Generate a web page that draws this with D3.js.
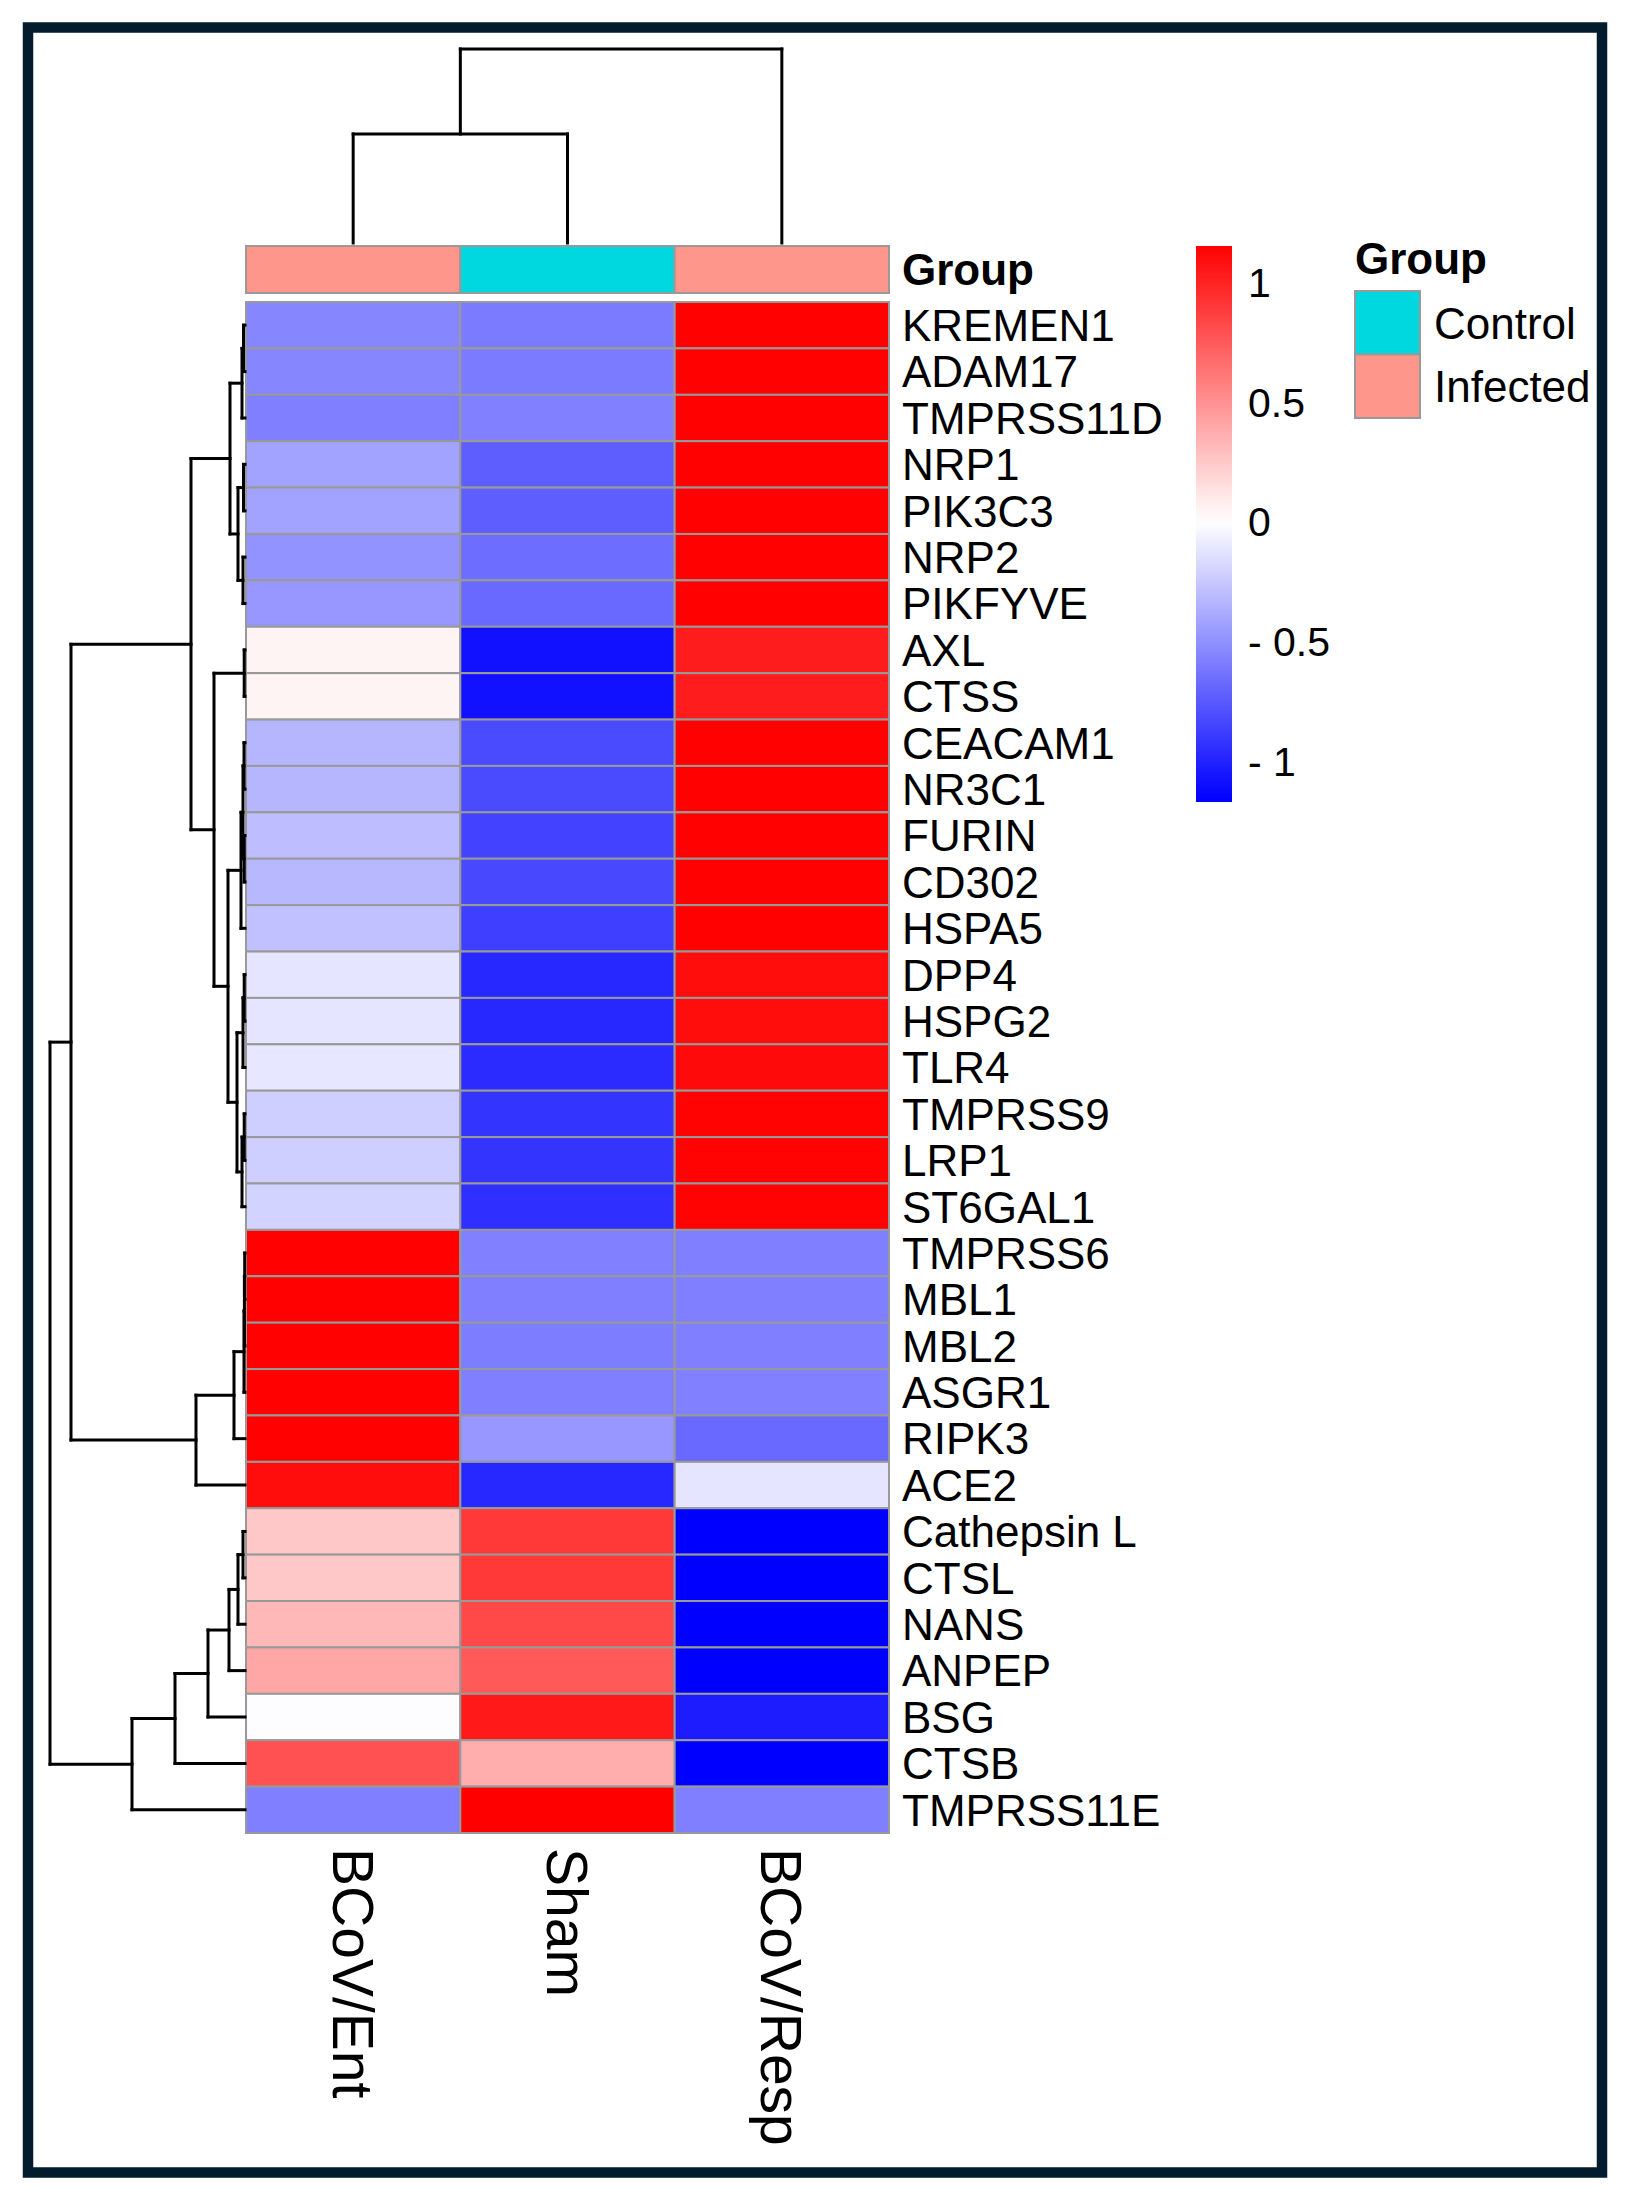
<!DOCTYPE html>
<html>
<head>
<meta charset="utf-8">
<title>Heatmap</title>
<style>
  body { margin: 0; background: #fff; }
  text { font-family: "Liberation Sans", Arial, sans-serif; fill: #000; }
</style>
</head>
<body>
<script src="https://d3js.org/d3.v7.min.js"></script>
<script>

// ---- data (row z-scores) ----
var genes = ["KREMEN1", "ADAM17", "TMPRSS11D", "NRP1", "PIK3C3", "NRP2", "PIKFYVE",
  "AXL", "CTSS", "CEACAM1", "NR3C1", "FURIN", "CD302", "HSPA5", "DPP4", "HSPG2",
  "TLR4", "TMPRSS9", "LRP1", "ST6GAL1", "TMPRSS6", "MBL1", "MBL2", "ASGR1", "RIPK3",
  "ACE2", "Cathepsin L", "CTSL", "NANS", "ANPEP", "BSG", "CTSB", "TMPRSS11E"];

var samples = ["BCoV/Ent", "Sham", "BCoV/Resp"];
var sampleGroup = ["Infected", "Control", "Infected"];
var groupLevels = ["Control", "Infected"];

var entValues = [-0.55, -0.55, -0.58, -0.42, -0.42, -0.49, -0.47, 0.05, 0.05, -0.33, -0.33,
  -0.30, -0.32, -0.28, -0.12, -0.12, -0.11, -0.22, -0.22, -0.20, 1.15, 1.15, 1.15, 1.15,
  1.15, 1.10, 0.25, 0.25, 0.32, 0.40, -0.01, 0.79, -0.58];
var shamValues = [-0.60, -0.60, -0.57, -0.73, -0.73, -0.66, -0.68, -1.08, -1.08, -0.82, -0.82,
  -0.85, -0.83, -0.87, -0.98, -0.98, -0.96, -0.92, -0.92, -0.94, -0.57, -0.58, -0.59, -0.58,
  -0.47, -0.98, 0.90, 0.90, 0.83, 0.75, 1.04, 0.37, 1.155];
var respValues = [1.15, 1.15, 1.15, 1.15, 1.15, 1.15, 1.15, 1.03, 1.03, 1.15, 1.15,
  1.15, 1.15, 1.15, 1.10, 1.10, 1.11, 1.14, 1.14, 1.14, -0.58, -0.58, -0.58, -0.57,
  -0.68, -0.12, -1.155, -1.155, -1.155, -1.155, -1.03, -1.155, -0.58];

var legendTicks = [1, 0.5, 0, -0.5, -1];

// dendrograms: [height, left, right]; leaves are names
function n(h, a, b) { return {h: h, children: [a, b]}; }

var rowTree = n(1.95,
  n(1.74,
    n(0.54,
      n(0.15,
        n(0.03, n(0.015, "KREMEN1", "ADAM17"), "TMPRSS11D"),
        n(0.07, n(0.015, "NRP1", "PIK3C3"), n(0.02, "NRP2", "PIKFYVE"))),
      n(0.31,
        n(0.008, "AXL", "CTSS"),
        n(0.17,
          n(0.04, n(0.02, n(0.01, "CEACAM1", "NR3C1"), n(0.008, "FURIN", "CD302")), "HSPA5"),
          n(0.08, n(0.02, n(0.008, "DPP4", "HSPG2"), "TLR4"), n(0.03, n(0.008, "TMPRSS9", "LRP1"), "ST6GAL1"))))),
    n(0.49, n(0.11, n(0.01, n(0.006, n(0.003, "TMPRSS6", "MBL1"), "MBL2"), "ASGR1"), "RIPK3"), "ACE2")),
  n(1.13, n(0.70, n(0.37, n(0.16, n(0.07, n(0.02, "Cathepsin L", "CTSL"), "NANS"), "ANPEP"), "BSG"), "CTSB"), "TMPRSS11E"));

var colTree = n(1.94, n(1.09, "BCoV/Ent", "Sham"), "BCoV/Resp");

// ---- layout ----
var W = 1636, H = 2205;
var heat = {x0: 246, x1: 889, y0: 302, y1: 1833};

var svg = d3.select("body").append("svg")
    .attr("width", W)
    .attr("height", H);

svg.append("rect").attr("width", W).attr("height", H).attr("fill", "#fff");

// frame
svg.append("rect")
    .attr("x", 28).attr("y", 27.5)
    .attr("width", 1574).attr("height", 2145)
    .attr("fill", "none")
    .attr("stroke", "#021b2d")
    .attr("stroke-width", 10.5);

var x = d3.scaleBand().domain(samples).range([heat.x0, heat.x1]);
var y = d3.scaleBand().domain(genes).range([heat.y0, heat.y1]);

var color = d3.scaleLinear()
    .domain([-1.155, 0, 1.155])
    .range(["#0000ff", "#ffffff", "#ff0000"])
    .clamp(true);

var groupColor = d3.scaleOrdinal()
    .domain(groupLevels)
    .range(["#00d8e0", "#ff968b"]);

var cells = [];
var cols = [entValues, shamValues, respValues];
genes.forEach(function(g, i) {
  samples.forEach(function(s, j) {
    cells.push({gene: g, sample: s, value: cols[j][i]});
  });
});

svg.append("g").selectAll("rect")
    .data(cells)
    .enter().append("rect")
    .attr("x", function(d) { return x(d.sample); })
    .attr("y", function(d) { return y(d.gene); })
    .attr("width", x.bandwidth())
    .attr("height", y.bandwidth())
    .attr("fill", function(d) { return color(d.value); })
    .attr("stroke", "#999999")
    .attr("stroke-width", 2);

// annotation bar
var annY = 246, annH = 47;
svg.append("g").selectAll("rect")
    .data(samples)
    .enter().append("rect")
    .attr("x", function(d) { return x(d); })
    .attr("y", annY)
    .attr("width", x.bandwidth())
    .attr("height", annH)
    .attr("fill", function(d, i) { return groupColor(sampleGroup[i]); })
    .attr("stroke", "#999999")
    .attr("stroke-width", 2);

svg.append("text")
    .attr("x", heat.x1 + 13)
    .attr("y", annY + annH / 2)
    .attr("dy", "0.36em")
    .style("font-size", "44px")
    .style("font-weight", "bold")
    .text("Group");

// row labels
svg.append("g").selectAll("text")
    .data(genes)
    .enter().append("text")
    .attr("x", heat.x1 + 13)
    .attr("y", function(d) { return y(d) + y.bandwidth() / 2; })
    .attr("dy", "0.36em")
    .style("font-size", "44px")
    .text(function(d) { return d; });

// column labels, rotated to read downwards
svg.append("g").selectAll("text")
    .data(samples)
    .enter().append("text")
    .attr("transform", function(d) {
      return "translate(" + (x(d) + x.bandwidth() / 2) + "," + (heat.y1 + 15) + ") rotate(90)";
    })
    .attr("dy", "0.36em")
    .style("font-size", "57px")
    .text(function(d) { return d; });

// ---- dendrograms ----
function drawTree(tree, posOf, hScale, horizontal) {
  var segs = [];
  function walk(node) {
    if (typeof node === "string") return {p: posOf(node), h: 0};
    var a = walk(node.children[0]), b = walk(node.children[1]);
    segs.push([a.p, a.h, a.p, node.h]);
    segs.push([b.p, b.h, b.p, node.h]);
    segs.push([a.p, node.h, b.p, node.h]);
    return {p: (a.p + b.p) / 2, h: node.h};
  }
  walk(tree);
  svg.append("g").selectAll("line")
      .data(segs)
      .enter().append("line")
      .attr(horizontal ? "y1" : "x1", function(d) { return d[0]; })
      .attr(horizontal ? "x1" : "y1", function(d) { return hScale(d[1]); })
      .attr(horizontal ? "y2" : "x2", function(d) { return d[2]; })
      .attr(horizontal ? "x2" : "y2", function(d) { return hScale(d[3]); })
      .attr("stroke", "#000")
      .attr("stroke-width", 3)
      .attr("stroke-linecap", "square");
}

var rowH = d3.scaleLinear().domain([0, rowTree.h]).range([245, 50]);
drawTree(rowTree, function(g) { return y(g) + y.bandwidth() / 2; }, rowH, true);

var colH = d3.scaleLinear().domain([0, colTree.h]).range([243, 49]);
drawTree(colTree, function(s) { return x(s) + x.bandwidth() / 2; }, colH, false);

// ---- colour key ----
var cb = {x: 1196, w: 36, top: 246, bottom: 802};
var cbY = d3.scaleLinear().domain([-1.17, 1.15]).range([cb.bottom, cb.top]);

var grad = svg.append("defs").append("linearGradient")
    .attr("id", "key")
    .attr("x1", 0).attr("y1", 0).attr("x2", 0).attr("y2", 1);
var stops = d3.range(0, 21).map(function(k) { return k / 20; });
grad.selectAll("stop")
    .data(stops)
    .enter().append("stop")
    .attr("offset", function(d) { return d; })
    .attr("stop-color", function(d) { return color(cbY.invert(cb.top + d * (cb.bottom - cb.top))); });

svg.append("rect")
    .attr("x", cb.x).attr("y", cb.top)
    .attr("width", cb.w).attr("height", cb.bottom - cb.top)
    .attr("fill", "url(#key)");

svg.append("g").selectAll("text")
    .data(legendTicks)
    .enter().append("text")
    .attr("x", cb.x + cb.w + 16)
    .attr("y", function(d) { return cbY(d); })
    .attr("dy", "0.36em")
    .style("font-size", "41px")
    .text(function(d) { return d < 0 ? "- " + Math.abs(d) : String(d); });

// ---- group legend ----
var lg = {x: 1355, y: 291, w: 65, h: 63.5};
svg.append("text")
    .attr("x", lg.x)
    .attr("y", 274)
    .style("font-size", "44px")
    .style("font-weight", "bold")
    .text("Group");

svg.append("g").selectAll("rect")
    .data(groupLevels)
    .enter().append("rect")
    .attr("x", lg.x)
    .attr("y", function(d, i) { return lg.y + i * lg.h; })
    .attr("width", lg.w)
    .attr("height", lg.h)
    .attr("fill", function(d) { return groupColor(d); })
    .attr("stroke", "#999999")
    .attr("stroke-width", 2);

svg.append("g").selectAll("text")
    .data(groupLevels)
    .enter().append("text")
    .attr("x", lg.x + lg.w + 14)
    .attr("y", function(d, i) { return lg.y + i * lg.h + lg.h / 2; })
    .attr("dy", "0.36em")
    .style("font-size", "44px")
    .text(function(d) { return d; });

</script>
</body>
</html>
